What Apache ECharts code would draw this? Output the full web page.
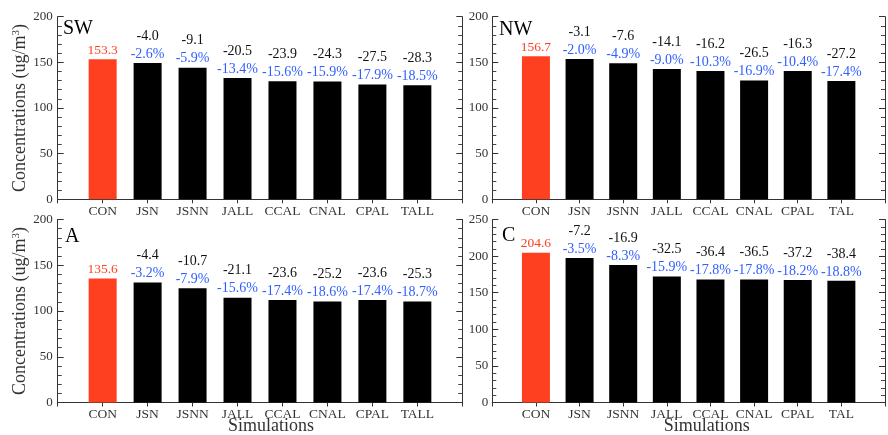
<!DOCTYPE html>
<html>
<head>
<meta charset="utf-8">
<script src="https://cdn.jsdelivr.net/npm/echarts@6/dist/echarts.min.js"></script>
<style>html,body{margin:0;padding:0;background:#fff}#c{width:888px;height:435px}</style>
</head>
<body>
<div id="c"></div>
<script>
const catsLeft = ['CON','JSN','JSNN','JALL','CCAL','CNAL','CPAL','TALL'];
const catsRight = ['CON','JSN','JSNN','JALL','CCAL','CNAL','CPAL','TAL'];

const swVals = [153.3, 149.3, 144.2, 132.8, 129.4, 129.0, 125.8, 125.0];
const swDiff = ['153.3', '-4.0', '-9.1', '-20.5', '-23.9', '-24.3', '-27.5', '-28.3'];
const swPct  = ['', '-2.6%', '-5.9%', '-13.4%', '-15.6%', '-15.9%', '-17.9%', '-18.5%'];

const nwVals = [156.7, 153.6, 149.1, 142.6, 140.5, 130.2, 140.4, 129.5];
const nwDiff = ['156.7', '-3.1', '-7.6', '-14.1', '-16.2', '-26.5', '-16.3', '-27.2'];
const nwPct  = ['', '-2.0%', '-4.9%', '-9.0%', '-10.3%', '-16.9%', '-10.4%', '-17.4%'];

const aVals = [135.6, 131.2, 124.9, 114.5, 112.0, 110.4, 112.0, 110.3];
const aDiff = ['135.6', '-4.4', '-10.7', '-21.1', '-23.6', '-25.2', '-23.6', '-25.3'];
const aPct  = ['', '-3.2%', '-7.9%', '-15.6%', '-17.4%', '-18.6%', '-17.4%', '-18.7%'];

const cVals = [204.6, 197.4, 187.7, 172.1, 168.2, 168.1, 167.4, 166.2];
const cDiff = ['204.6', '-7.2', '-16.9', '-32.5', '-36.4', '-36.5', '-37.2', '-38.4'];
const cPct  = ['', '-3.5%', '-8.3%', '-15.9%', '-17.8%', '-17.8%', '-18.2%', '-18.8%'];

const yMaxSmall = 200, yMaxBig = 250, yStep = 50;
const panelNames = ['SW', 'NW', 'A', 'C'];
const yName = 'Concentrations';
const xName = 'Simulations';

const FONT = "'Liberation Serif','Times New Roman',serif";
const RED = '#ff4020', BLUE = '#2f5fff', AX = '#333';

const panels = [
  {cats: catsLeft,  vals: swVals, diff: swDiff, pct: swPct, max: yMaxSmall, grid: {left: 57.7, top: 16.7, width: 404.6, height: 182.6}, yname: true},
  {cats: catsRight, vals: nwVals, diff: nwDiff, pct: nwPct, max: yMaxSmall, grid: {left: 492.3, top: 16.7, width: 404.6, height: 182.6}, yname: false},
  {cats: catsLeft,  vals: aVals,  diff: aDiff,  pct: aPct,  max: yMaxSmall, grid: {left: 57.7, top: 219.5, width: 404.6, height: 183}, yname: true},
  {cats: catsRight, vals: cVals,  diff: cDiff,  pct: cPct,  max: yMaxBig,   grid: {left: 492.3, top: 219.5, width: 404.6, height: 183}, yname: false}
];

const grids = [], xAxes = [], yAxes = [], series = [];
panels.forEach((p, i) => {
  grids.push(Object.assign({containLabel: false}, p.grid));
  const catData = [''].concat(p.cats, ['']);
  const base = {
    type: 'category', gridIndex: i, data: catData, boundaryGap: false,
    axisLine: {show: true, lineStyle: {color: AX, width: 1}},
    axisTick: {show: true, inside: true, length: 4, lineStyle: {color: AX}},
    splitLine: {show: false}
  };
  xAxes.push(Object.assign({}, base, {
    position: 'bottom',
    axisLabel: {show: true, color: AX, fontFamily: FONT, fontSize: 13.5, margin: 5, interval: 0}
  }));
  xAxes.push(Object.assign({}, base, {
    position: 'top',
    axisLabel: {show: false}
  }));
  const yBase = {
    type: 'value', gridIndex: i, min: 0, max: p.max, interval: yStep,
    axisLine: {show: true, lineStyle: {color: AX, width: 1}},
    axisTick: {show: true, inside: true, length: 6, lineStyle: {color: AX}},
    minorTick: {show: true, splitNumber: 5, length: 4, lineStyle: {color: '#444', width: 1}},
    splitLine: {show: false}
  };
  const yLeft = Object.assign({}, yBase, {
    position: 'left',
    axisLabel: {show: true, color: AX, fontFamily: FONT, fontSize: 13, margin: p.yname ? 5 : 4}
  });
  if (p.yname) {
    Object.assign(yLeft, {
      name: '{n|' + yName + ' (ug/m}{s|3}{n|)}',
      nameLocation: 'middle', nameGap: 27,
      nameTextStyle: {
        rich: {
          n: {fontFamily: FONT, fontSize: 18, color: AX},
          s: {fontFamily: FONT, fontSize: 11, color: AX, verticalAlign: 'top', padding: [0, 0, 8, 0]}
        }
      }
    });
  }
  yAxes.push(yLeft);
  yAxes.push(Object.assign({}, yBase, {position: 'right', axisLabel: {show: false}}));

  const data = [null].concat(p.vals.map((v, k) => ({
    value: v,
    itemStyle: {color: k === 0 ? RED : '#000'}
  })), [null]);
  series.push({
    type: 'bar', xAxisIndex: 2 * i, yAxisIndex: 2 * i, data: data, barWidth: 28,
    animation: false,
    label: {
      show: true, position: 'top', distance: 0,
      formatter: (prm) => {
        const k = prm.dataIndex - 1;
        if (k < 0 || k >= p.vals.length) return '';
        if (k === 0) return '{r|' + p.diff[k] + '}';
        return '{k|' + p.diff[k] + '}\n{b|' + p.pct[k] + '}';
      },
      rich: {
        r: {color: RED, fontFamily: FONT, fontSize: 13.5, lineHeight: 18},
        k: {color: '#111', fontFamily: FONT, fontSize: 14, lineHeight: 18},
        b: {color: BLUE, fontFamily: FONT, fontSize: 14, lineHeight: 18}
      }
    }
  });
});

const graphics = [
  {type: 'text', x: 63, y: 28.3, style: {text: panelNames[0], font: '20px ' + FONT, fill: '#000', textVerticalAlign: 'middle'}},
  {type: 'text', x: 499, y: 30, style: {text: panelNames[1], font: '20px ' + FONT, fill: '#000', textVerticalAlign: 'middle'}},
  {type: 'text', x: 65, y: 236.3, style: {text: panelNames[2], font: '20px ' + FONT, fill: '#000', textVerticalAlign: 'middle'}},
  {type: 'text', x: 502, y: 235.5, style: {text: panelNames[3], font: '20px ' + FONT, fill: '#000', textVerticalAlign: 'middle'}},
  {type: 'text', x: 271, y: 426, style: {text: xName, font: '18px ' + FONT, fill: AX, textAlign: 'center', textVerticalAlign: 'middle'}},
  {type: 'text', x: 706.7, y: 426, style: {text: xName, font: '18px ' + FONT, fill: AX, textAlign: 'center', textVerticalAlign: 'middle'}}
];

const chart = echarts.init(document.getElementById('c'), null, {renderer: 'canvas'});
chart.setOption({
  animation: false,
  backgroundColor: '#fff',
  grid: grids,
  xAxis: xAxes,
  yAxis: yAxes,
  series: series,
  graphic: graphics
});
</script>
</body>
</html>
